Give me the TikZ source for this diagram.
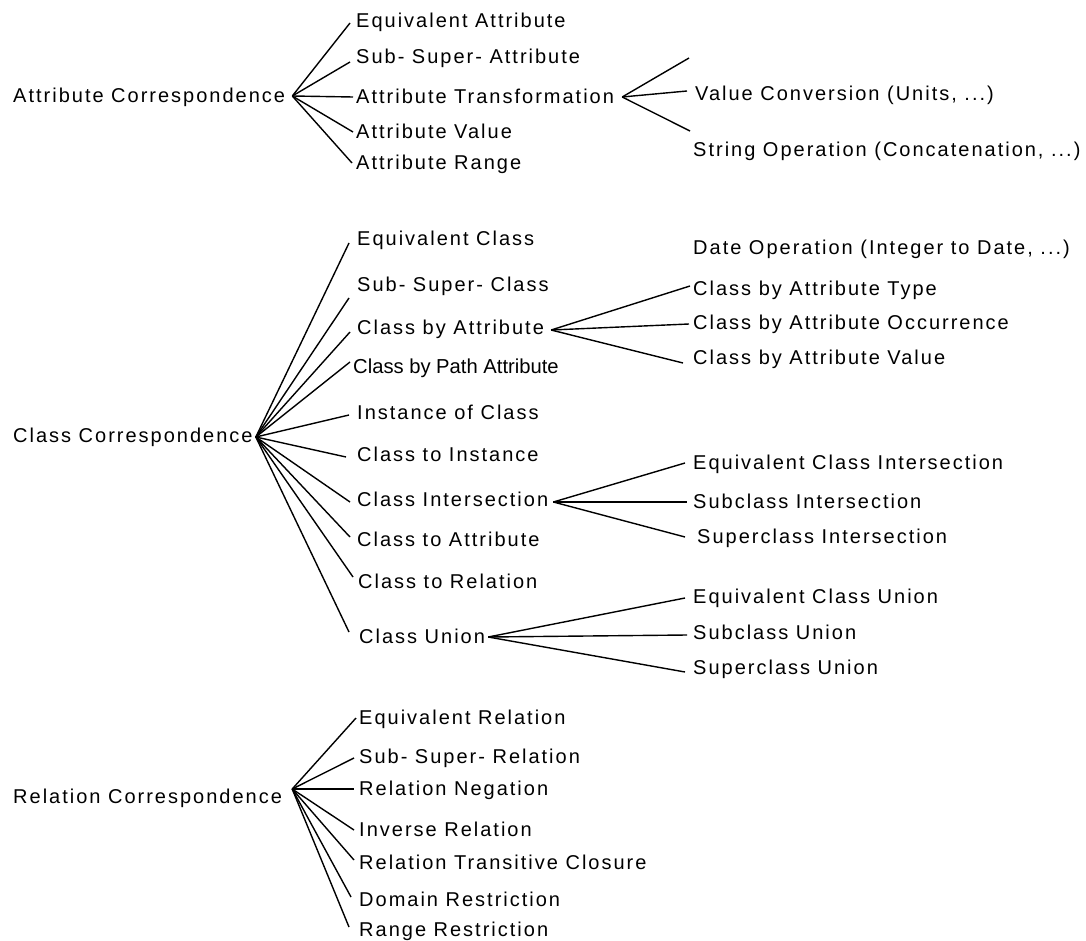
\documentclass[tikz,border=0pt]{standalone}
\usepackage{fontspec}
\setmainfont{Liberation Sans}[LetterSpace=10]
\newfontfamily\tightfont{Liberation Sans}
\usetikzlibrary{calc}
\begin{document}
\begin{tikzpicture}[x=1pt,y=-1pt,
  lbl/.style={anchor=west,inner xsep=0pt,inner ysep=0pt,text height=13.5pt,text depth=0pt,font=\fontsize{20}{23}\selectfont},
  tight/.style={lbl,font=\tightfont\fontsize{20.2}{23}\selectfont},
  conn/.style={draw=black,line width=1.4pt}]
\useasboundingbox[fill=white] (0,0) rectangle (1086,941);

% ---------------- Attribute correspondence
\node[lbl] (ac) at (13,96) {Attribute Correspondence};
\node[lbl] (a1) at (356,21) {Equivalent Attribute};
\node[lbl] (a2) at (356,57) {Sub- Super- Attribute};
\node[lbl] (a3) at (356,97) {Attribute Transformation};
\node[lbl] (a4) at (356,132) {Attribute Value};
\node[lbl] (a5) at (356,163) {Attribute Range};
\node[lbl] (vc) at (695,94) {Value Conversion (Units, ...)};
\node[lbl] (so) at (693,150) {String Operation (Concatenation, ...)};
\node[lbl] (dop) at (693,248) {Date Operation (Integer to Date, ...)};
\coordinate (ach) at ($(ac.east)+(7,0)$);
\coordinate (ath) at ($(a3.east)+(8,0)$);
\coordinate (atf1) at (689,58);
\coordinate (atf2) at (690,131);
\draw[conn] (ach) -- ($(a1.west)+(-6,2)$);
\draw[conn] (ach) -- ($(a2.west)+(-6,5)$);
\draw[conn] (ach) -- ($(a3.west)+(-3,0)$);
\draw[conn] (ach) -- ($(a4.west)+(-3,0)$);
\draw[conn] (ach) -- ($(a5.west)+(-4,0)$);
\draw[conn] (ath) -- (atf1);
\draw[conn] (ath) -- ($(vc.west)+(-8,-3)$);
\draw[conn] (ath) -- (atf2);

% ---------------- Class correspondence
\node[lbl] (cc) at (13,436) {Class Correspondence};
\node[lbl] (c1) at (357,239) {Equivalent Class};
\node[lbl] (c2) at (357,285) {Sub- Super- Class};
\node[lbl] (c3) at (357,328) {Class by Attribute};
\node[tight] (c4) at (353,367) {Class by Path Attribute};
\node[lbl] (c5) at (357,413) {Instance of Class};
\node[lbl] (c6) at (357,455) {Class to Instance};
\node[lbl] (c7) at (357,500) {Class Intersection};
\node[lbl] (c8) at (357,540) {Class to Attribute};
\node[lbl] (c9) at (358,582) {Class to Relation};
\node[lbl] (c10) at (359,637) {Class Union};
\coordinate (cch) at ($(cc.east)+(3,1)$);
\draw[conn] (cch) -- ($(c1.west)+(-8,4)$);
\draw[conn] (cch) -- ($(c2.west)+(-8,13)$);
\draw[conn] (cch) -- ($(c3.west)+(-7,4)$);
\draw[conn] (cch) -- ($(c4.west)+(-3,-5)$);
\draw[conn] (cch) -- ($(c5.west)+(-8,2)$);
\draw[conn] (cch) -- ($(c6.west)+(-11,2)$);
\draw[conn] (cch) -- ($(c7.west)+(-7,2)$);
\draw[conn] (cch) -- ($(c8.west)+(-7,-3)$);
\draw[conn] (cch) -- ($(c9.west)+(-5,-5)$);
\draw[conn] (cch) -- ($(c10.west)+(-10,-5)$);

\node[lbl] (t1) at (693,289) {Class by Attribute Type};
\node[lbl] (t2) at (693,323) {Class by Attribute Occurrence};
\node[lbl] (t3) at (693,358) {Class by Attribute Value};
\coordinate (cbh) at ($(c3.east)+(7,2)$);
\draw[conn] (cbh) -- ($(t1.west)+(-3,-3)$);
\draw[conn] (cbh) -- ($(t2.west)+(-4,1)$);
\draw[conn] (cbh) -- ($(t3.west)+(-10,5)$);

\node[lbl] (i1) at (693,463) {Equivalent Class Intersection};
\node[lbl] (i2) at (693,502) {Subclass Intersection};
\node[lbl] (i3) at (697,537) {Superclass Intersection};
\coordinate (cih) at ($(c7.east)+(5,2)$);
\draw[conn] (cih) -- ($(i1.west)+(-8,0)$);
\draw[conn] (cih) -- ($(i2.west)+(-6,0)$);
\draw[conn] (cih) -- ($(i3.west)+(-12,0)$);

\node[lbl] (u1) at (693,597) {Equivalent Class Union};
\node[lbl] (u2) at (693,633) {Subclass Union};
\node[lbl] (u3) at (693,668) {Superclass Union};
\coordinate (cuh) at ($(c10.east)+(3,0)$);
\draw[conn] (cuh) -- ($(u1.west)+(-8,1)$);
\draw[conn] (cuh) -- ($(u2.west)+(-6,2)$);
\draw[conn] (cuh) -- ($(u3.west)+(-8,4)$);

% ---------------- Relation correspondence
\node[lbl] (rc) at (13,797) {Relation Correspondence};
\node[lbl] (r1) at (359,718) {Equivalent Relation};
\node[lbl] (r2) at (359,757) {Sub- Super- Relation};
\node[lbl] (r3) at (359,789) {Relation Negation};
\node[lbl] (r4) at (359,830) {Inverse Relation};
\node[lbl] (r5) at (359,863) {Relation Transitive Closure};
\node[lbl] (r6) at (359,900) {Domain Restriction};
\node[lbl] (r7) at (359,930) {Range Restriction};
\coordinate (rch) at ($(rc.east)+(10,-8)$);
\draw[conn] (rch) -- ($(r1.west)+(-3,0)$);
\draw[conn] (rch) -- ($(r2.west)+(-5,1)$);
\draw[conn] (rch) -- ($(r3.west)+(-5,0)$);
\draw[conn] (rch) -- ($(r4.west)+(-5,0)$);
\draw[conn] (rch) -- ($(r5.west)+(-5,-3)$);
\draw[conn] (rch) -- ($(r6.west)+(-8,-3)$);
\draw[conn] (rch) -- ($(r7.west)+(-10,-3)$);
\end{tikzpicture}
\end{document}
